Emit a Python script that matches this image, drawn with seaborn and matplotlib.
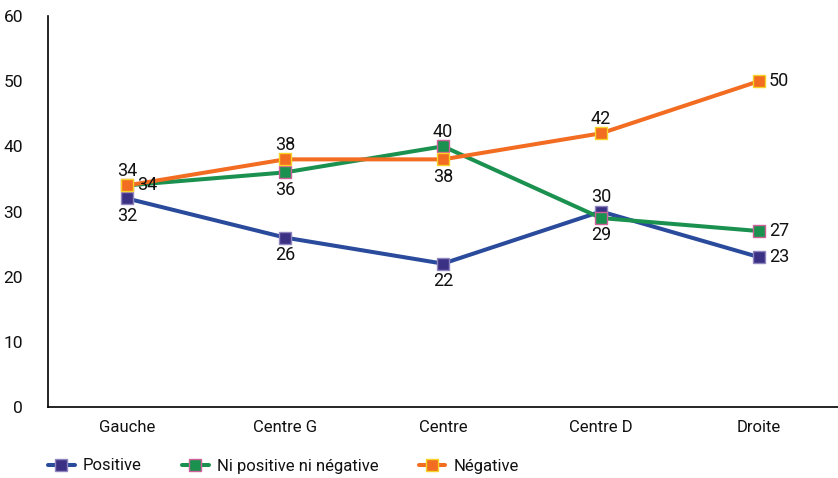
import matplotlib
matplotlib.use("Agg")
import matplotlib.pyplot as plt
import seaborn as sns
import pandas as pd

categories = ["Gauche", "Centre G", "Centre", "Centre D", "Droite"]
positive = [32, 26, 22, 30, 23]
neutre = [34, 36, 40, 29, 27]
negative = [34, 38, 38, 42, 50]
series_names = ["Positive", "Ni positive ni négative", "Négative"]
y_ticks = [0, 10, 20, 30, 40, 50, 60]

# label placement per point: 'a' above, 'b' below, 'r' right
pos_place = ["b", "b", "b", "a", "r"]
neu_place = ["r", "b", "a", "b", "r"]
neg_place = ["a", "a", "b", "a", "r"]

sns.set_style("white")
plt.rcParams["font.family"] = ["Roboto", "DejaVu Sans"]
plt.rcParams["text.color"] = "#111111"
plt.rcParams["xtick.color"] = "black"
plt.rcParams["ytick.color"] = "black"
plt.rcParams["xtick.labelcolor"] = "#111111"
plt.rcParams["ytick.labelcolor"] = "#111111"

fig = plt.figure(figsize=(8.38, 4.78), dpi=100)
ax = fig.add_axes([48/838, 71/478, 790/838, 391/478])

styles = [
    (positive, pos_place, "#2a4a9c", "#3b3184", "#8f86c0"),
    (neutre, neu_place, "#1b9150", "#1b9150", "#d0609a"),
    (negative, neg_place, "#f26c22", "#f26c22", "#f5d327"),
]

handles = []
for name, (vals, places, lc, fc, ec) in zip(series_names, styles):
    df = pd.DataFrame({"cat": categories, "val": vals})
    sns.lineplot(data=df, x="cat", y="val", sort=False, ax=ax, color=lc,
                 linewidth=2.9, marker="s", markersize=9,
                 markerfacecolor=fc, markeredgecolor=ec, markeredgewidth=1.0,
                 label=name, legend=False)
    line = ax.lines[-1]
    line.set_markerfacecolor(fc)
    line.set_markeredgecolor(ec)
    handles.append(line)
    for i, (v, p) in enumerate(zip(vals, places)):
        if p == "a":
            off, ha, va = (0, 4), "center", "bottom"
        elif p == "b":
            off, ha, va = (0, -6), "center", "top"
        else:
            off, ha, va = (7, 0), "left", "center"
        ax.annotate(str(v), (i, v), xytext=off, textcoords="offset points",
                    ha=ha, va=va, fontsize=13)

ax.set_xlim(-0.5, 4.5)
ax.set_ylim(0, 60)
ax.set_yticks(y_ticks)
ax.set_yticklabels([str(t) for t in y_ticks], fontsize=12.5)
ax.set_xticks(range(len(categories)))
ax.set_xticklabels(categories, fontsize=12)
ax.set_xticks([-0.5, 0.5, 1.5, 2.5, 3.5, 4.5], minor=True)
ax.tick_params(axis="x", which="major", length=0, pad=9)
ax.tick_params(axis="x", which="minor", length=3, width=1, direction="out")
ax.tick_params(axis="y", length=4, width=1, direction="out", pad=14)
ax.set_xlabel("")
ax.set_ylabel("")
for s in ["top", "right"]:
    ax.spines[s].set_visible(False)
for s in ["left", "bottom"]:
    ax.spines[s].set_color("black")
    ax.spines[s].set_linewidth(1.2)

fig.legend(handles=handles, labels=series_names, loc="center left",
           bbox_to_anchor=(33/838, 12/478), ncol=3, frameon=False,
           fontsize=12, handlelength=1.6, columnspacing=2.4, handletextpad=0.5)

fig.savefig("out.png", dpi=100)
